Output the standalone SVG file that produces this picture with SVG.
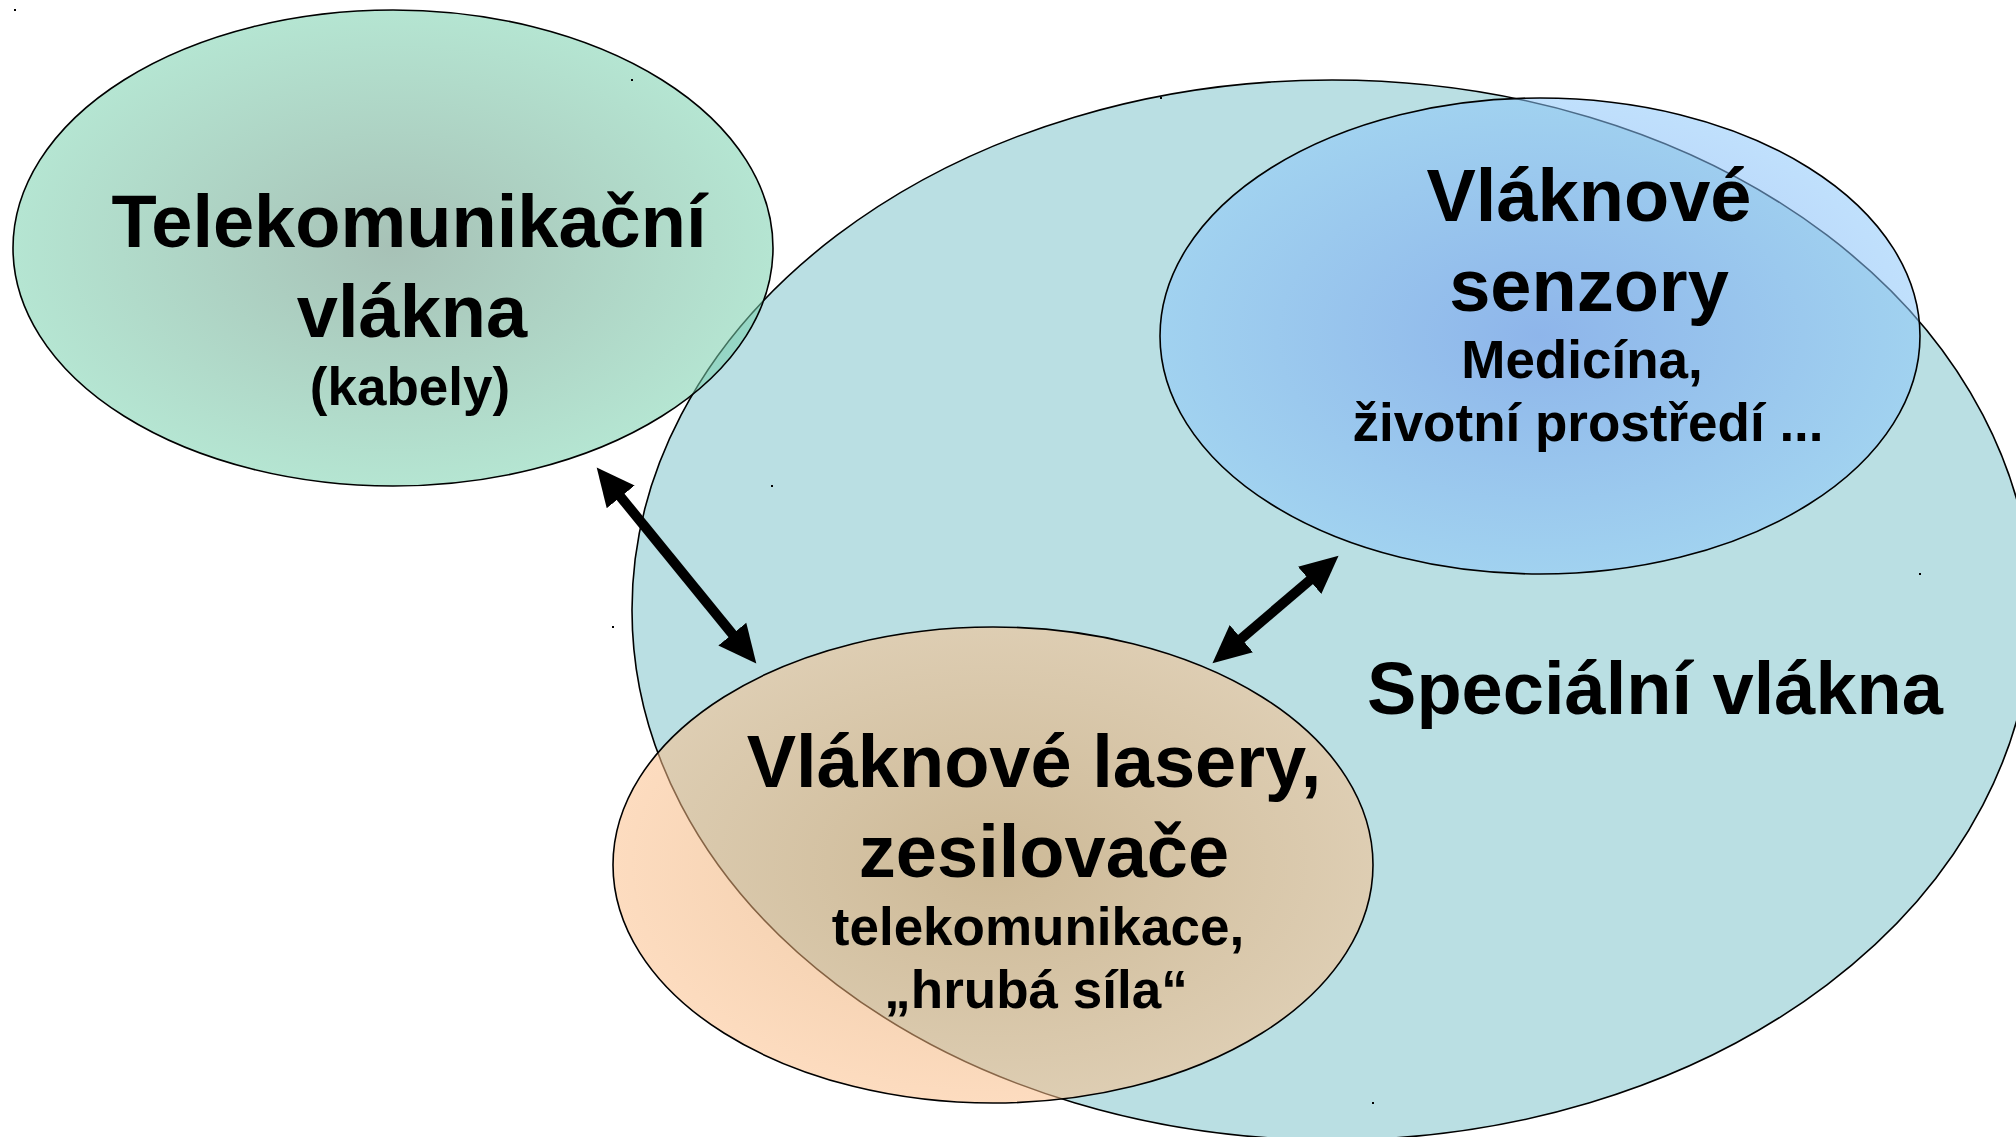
<svg xmlns="http://www.w3.org/2000/svg" width="2016" height="1137" viewBox="0 0 2016 1137">
<defs>
<radialGradient id="gGreen" cx="0.5" cy="0.5" r="0.5">
<stop offset="0" stop-color="#5f8f7b"/>
<stop offset="1" stop-color="#78d0ad"/>
</radialGradient>
<radialGradient id="gBlue" cx="0.5" cy="0.5" r="0.5">
<stop offset="0" stop-color="#6a93f0"/>
<stop offset="1" stop-color="#8cc7fa"/>
</radialGradient>
<radialGradient id="gOrange" cx="0.5" cy="0.5" r="0.5">
<stop offset="0" stop-color="#dc9a58"/>
<stop offset="1" stop-color="#fbbf8b"/>
</radialGradient>
<marker id="ah" viewBox="0 0 40 40" refX="6" refY="20" markerWidth="40" markerHeight="40" markerUnits="userSpaceOnUse" orient="auto-start-reverse">
<path d="M0,2 L38,20 L0,38 Z" fill="#000"/>
</marker>
</defs>
<style>
.el{stroke:#000;stroke-width:1.6}
.big{font-family:"Liberation Sans",Arial,sans-serif;font-weight:bold;font-size:74px;fill:#000;text-anchor:middle}
.small{font-family:"Liberation Sans",Arial,sans-serif;font-weight:bold;font-size:53px;fill:#000;text-anchor:middle}
.arr{stroke:#000;stroke-width:10;fill:none;marker-start:url(#ah);marker-end:url(#ah)}
.dot{fill:#000}
</style>
<rect width="2016" height="1137" fill="#fff"/>
<g id="specialni">
<ellipse class="el" cx="1332" cy="610" rx="700" ry="530" fill="#badfe3"/>
<text class="big" x="1655" y="714">Speciální vlákna</text>
</g>
<g id="telekom">
<ellipse class="el" cx="393" cy="248" rx="380" ry="238" fill="url(#gGreen)" fill-opacity="0.55"/>
<text class="big" x="409" y="247">Telekomunikační</text>
<text class="big" x="412" y="337">vlákna</text>
<text class="small" x="410" y="405">(kabely)</text>
</g>
<g id="senzory">
<ellipse class="el" cx="1540" cy="336" rx="380" ry="238" fill="url(#gBlue)" fill-opacity="0.55"/>
<text class="big" x="1589" y="221">Vláknové</text>
<text class="big" x="1589" y="311">senzory</text>
<text class="small" x="1582" y="378">Medicína,</text>
<text class="small" x="1588" y="441">životní prostředí ...</text>
</g>
<g id="lasery">
<ellipse class="el" cx="993" cy="865" rx="380" ry="238" fill="url(#gOrange)" fill-opacity="0.55"/>
<text class="big" x="1034" y="787">Vláknové lasery,</text>
<text class="big" x="1044" y="877">zesilovače</text>
<text class="small" x="1038" y="945">telekomunikace,</text>
<text class="small" x="1036" y="1008">„hrubá síla“</text>
</g>
<g id="connectors">
<line class="arr" x1="616.9" y1="492.3" x2="736.1" y2="638.7"/>
<line class="arr" x1="1314.2" y1="576.5" x2="1236.8" y2="642.5"/>
</g>
<g id="marks">
<rect class="dot" x="14" y="9" width="2" height="2"/>
<rect class="dot" x="631" y="79" width="2" height="2"/>
<rect class="dot" x="771" y="485" width="2" height="2"/>
<rect class="dot" x="1160" y="97" width="2" height="2"/>
<rect class="dot" x="1919" y="573" width="2" height="2"/>
<rect class="dot" x="612" y="626" width="2" height="2"/>
<rect class="dot" x="1372" y="1102" width="2" height="2"/>
</g>
</svg>
